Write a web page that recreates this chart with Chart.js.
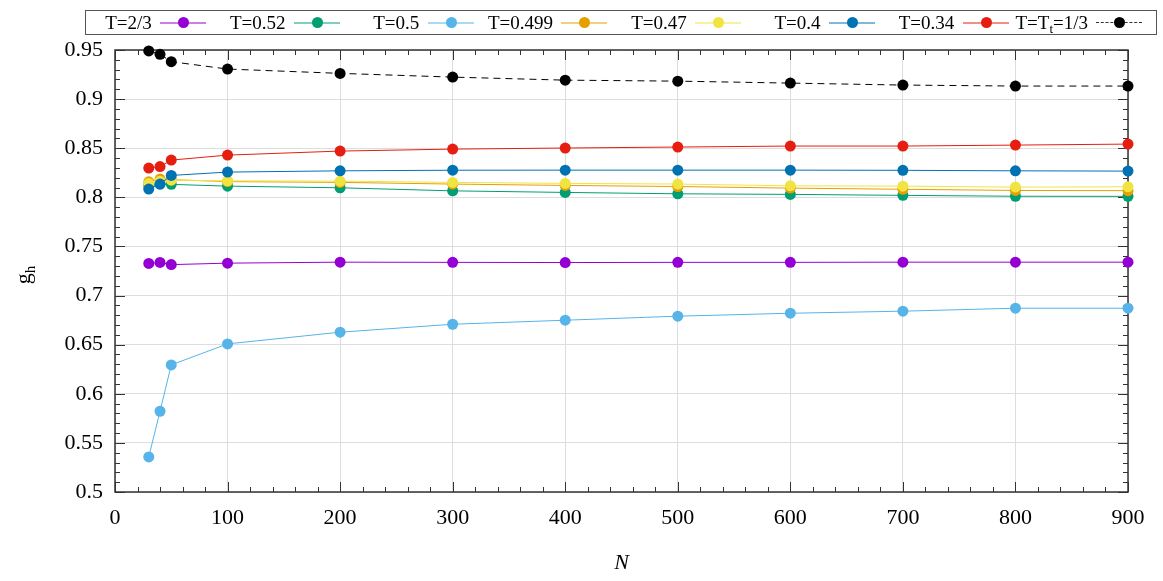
<!DOCTYPE html>
<html>
<head>
<meta charset="utf-8">
<script src="https://cdn.jsdelivr.net/npm/chart.js@4.4.0/dist/chart.umd.min.js"></script>
<style>
  body { margin: 0; background: #fff; }
  #wrap { position: relative; width: 1163px; height: 581px; }
  #legend { position: absolute; left: 85px; top: 10px; width: 1070px; height: 23px;
            border: 1.5px solid #555; display: flex; font-family: "Liberation Serif", serif; font-size: 19px; }
  .entry { position: relative; width: 133.75px; height: 100%; }
  .entry .txt { position: absolute; right: 68px; top: 0; line-height: 23px; white-space: nowrap; }
  .entry .sw { position: absolute; left: 74px; width: 46px; top: 11px; height: 1px; }
  .entry .sw .ln { position: absolute; left: 0; right: 0; top: 0; height: 1.5px; opacity: 0.5; }
  .entry .sw .dot { position: absolute; left: 18px; top: -5px; width: 11px; height: 11px; border-radius: 50%; }
  sub { font-size: 13px; vertical-align: -4px; line-height: 0; }
</style>
</head>
<body>
<div id="wrap">
  <canvas id="chart" width="1163" height="581"></canvas>
  <div id="legend"></div>
</div>
<script>
// --- DATA ---
const sizes = [30, 40, 50, 100, 200, 300, 400, 500, 600, 700, 800, 900];
const labels = ['T=2/3', 'T=0.52', 'T=0.5', 'T=0.499', 'T=0.47', 'T=0.4', 'T=0.34', 'T=T<sub>t</sub>=1/3'];
const colors = ['#9400d3', '#009e73', '#56b4e9', '#e69f00', '#f0e442', '#0072b2', '#e51e10', '#000000'];

const gT667  = [0.7327, 0.7337, 0.7315, 0.7330, 0.7340, 0.7338, 0.7336, 0.7338, 0.7338, 0.7340, 0.7340, 0.7340];
const gT052  = [0.8120, 0.8135, 0.8132, 0.8114, 0.8097, 0.8066, 0.8050, 0.8036, 0.8030, 0.8020, 0.8011, 0.8010];
const gT050  = [0.5357, 0.5822, 0.6294, 0.6508, 0.6627, 0.6708, 0.6749, 0.6790, 0.6820, 0.6841, 0.6871, 0.6871];
const gT0499 = [0.8158, 0.8186, 0.8180, 0.8160, 0.8152, 0.8135, 0.8121, 0.8110, 0.8094, 0.8082, 0.8070, 0.8068];
const gT047  = [0.8140, 0.8165, 0.8175, 0.8168, 0.8165, 0.8152, 0.8142, 0.8135, 0.8117, 0.8114, 0.8104, 0.8107];
const gT040  = [0.8084, 0.8135, 0.8223, 0.8257, 0.8270, 0.8276, 0.8277, 0.8277, 0.8277, 0.8275, 0.8270, 0.8267];
const gT034  = [0.8298, 0.8313, 0.8379, 0.8430, 0.8471, 0.8491, 0.8502, 0.8512, 0.8522, 0.8522, 0.8532, 0.8542];
const gTt    = [0.9490, 0.9456, 0.9381, 0.9306, 0.9262, 0.9224, 0.9193, 0.9183, 0.9163, 0.9143, 0.9133, 0.9133];

const series = [gT667, gT052, gT050, gT0499, gT047, gT040, gT034, gTt];

const xTicks = { min: 0, max: 900, step: 100 };
const yTicks = { min: 0.5, max: 0.95, step: 0.05 };

// --- LEGEND (text before line sample, like gnuplot) ---
const legend = document.getElementById('legend');
labels.forEach((lab, i) => {
    const dashed = i === labels.length - 1;
    const ln = dashed
        ? `<div class="ln" style="border-top:1.5px dashed #000;height:0;opacity:0.8"></div>`
        : `<div class="ln" style="background:${colors[i]}"></div>`;
    legend.innerHTML += `<div class="entry"><span class="txt">${lab}</span>
        <div class="sw">${ln}<div class="dot" style="background:${colors[i]}"></div></div></div>`;
});

// --- FRAME, INWARD TICKS, AXIS TITLES ---
const frameTicks = {
    id: 'frameTicks',
    beforeDatasetsDraw(chart) {
        const { ctx, chartArea: { left, right, top, bottom }, scales: { x, y } } = chart;
        ctx.save();
        ctx.strokeStyle = '#333';
        ctx.lineWidth = 1;
        ctx.beginPath();
        for (let v = xTicks.min; v <= xTicks.max + 1e-9; v += 20) {
            const px = Math.round(x.getPixelForValue(v)) + 0.5;
            const len = v % 100 === 0 ? 10 : 5;
            ctx.moveTo(px, bottom); ctx.lineTo(px, bottom - len);
            ctx.moveTo(px, top); ctx.lineTo(px, top + len);
        }
        for (let i = 0; i <= 45; i++) {
            const py = Math.round(y.getPixelForValue(yTicks.min + i * 0.01)) + 0.5;
            const len = i % 5 === 0 ? 10 : 5;
            ctx.moveTo(left, py); ctx.lineTo(left + len, py);
            ctx.moveTo(right, py); ctx.lineTo(right - len, py);
        }
        ctx.stroke();
        ctx.lineWidth = 1.5;
        ctx.strokeRect(left, top, right - left, bottom - top);
        ctx.restore();
    },
    afterDraw(chart) {
        const { ctx, chartArea: { left, right } } = chart;
        ctx.save();
        ctx.fillStyle = '#000';
        ctx.font = 'italic 22px "Liberation Serif"';
        ctx.textAlign = 'center';
        ctx.textBaseline = 'alphabetic';
        ctx.fillText('N', (left + right) / 2, 569);

        ctx.translate(30, 275);
        ctx.rotate(-Math.PI / 2);
        ctx.font = '22px "Liberation Serif"';
        const gw = ctx.measureText('g').width;
        ctx.font = '15px "Liberation Serif"';
        const hw = ctx.measureText('h').width;
        const start = -(gw + hw) / 2;
        ctx.textAlign = 'left';
        ctx.font = '22px "Liberation Serif"';
        ctx.fillText('g', start, 0);
        ctx.font = '15px "Liberation Serif"';
        ctx.fillText('h', start + gw, 5);
        ctx.restore();
    }
};

// --- CHART ---
const datasets = series.map((vals, i) => ({
    label: labels[i],
    data: sizes.map((n, k) => ({ x: n, y: vals[k] })),
    borderColor: colors[i],
    backgroundColor: colors[i],
    borderWidth: 1,
    borderDash: i === series.length - 1 ? [7, 5] : [],
    pointRadius: 5.5,
    pointBorderWidth: 0,
    pointHoverRadius: 5.5,
    tension: 0,
    clip: false,
    order: series.length - 1 - i
}));

const tickFont = { family: 'Liberation Serif', size: 22 };

new Chart(document.getElementById('chart'), {
    type: 'line',
    data: { datasets },
    plugins: [frameTicks],
    options: {
        responsive: false,
        animation: false,
        layout: { padding: { top: 50, right: 35, left: 0, bottom: 0 } },
        plugins: { legend: { display: false }, tooltip: { enabled: false } },
        scales: {
            x: {
                type: 'linear', min: xTicks.min, max: xTicks.max,
                ticks: { stepSize: xTicks.step, font: tickFont, color: '#000', padding: 13, maxRotation: 0 },
                grid: { color: '#dddddd', drawTicks: false },
                border: { display: false },
                afterFit(scale) { scale.height = 89; }
            },
            y: {
                type: 'linear', min: yTicks.min, max: yTicks.max,
                ticks: {
                    stepSize: yTicks.step, font: tickFont, color: '#000', padding: 12,
                    callback: v => String(Number(v.toFixed(2)))
                },
                grid: { color: '#dddddd', drawTicks: false },
                border: { display: false },
                afterFit(scale) { scale.width = 115; }
            }
        }
    }
});
</script>
</body>
</html>
